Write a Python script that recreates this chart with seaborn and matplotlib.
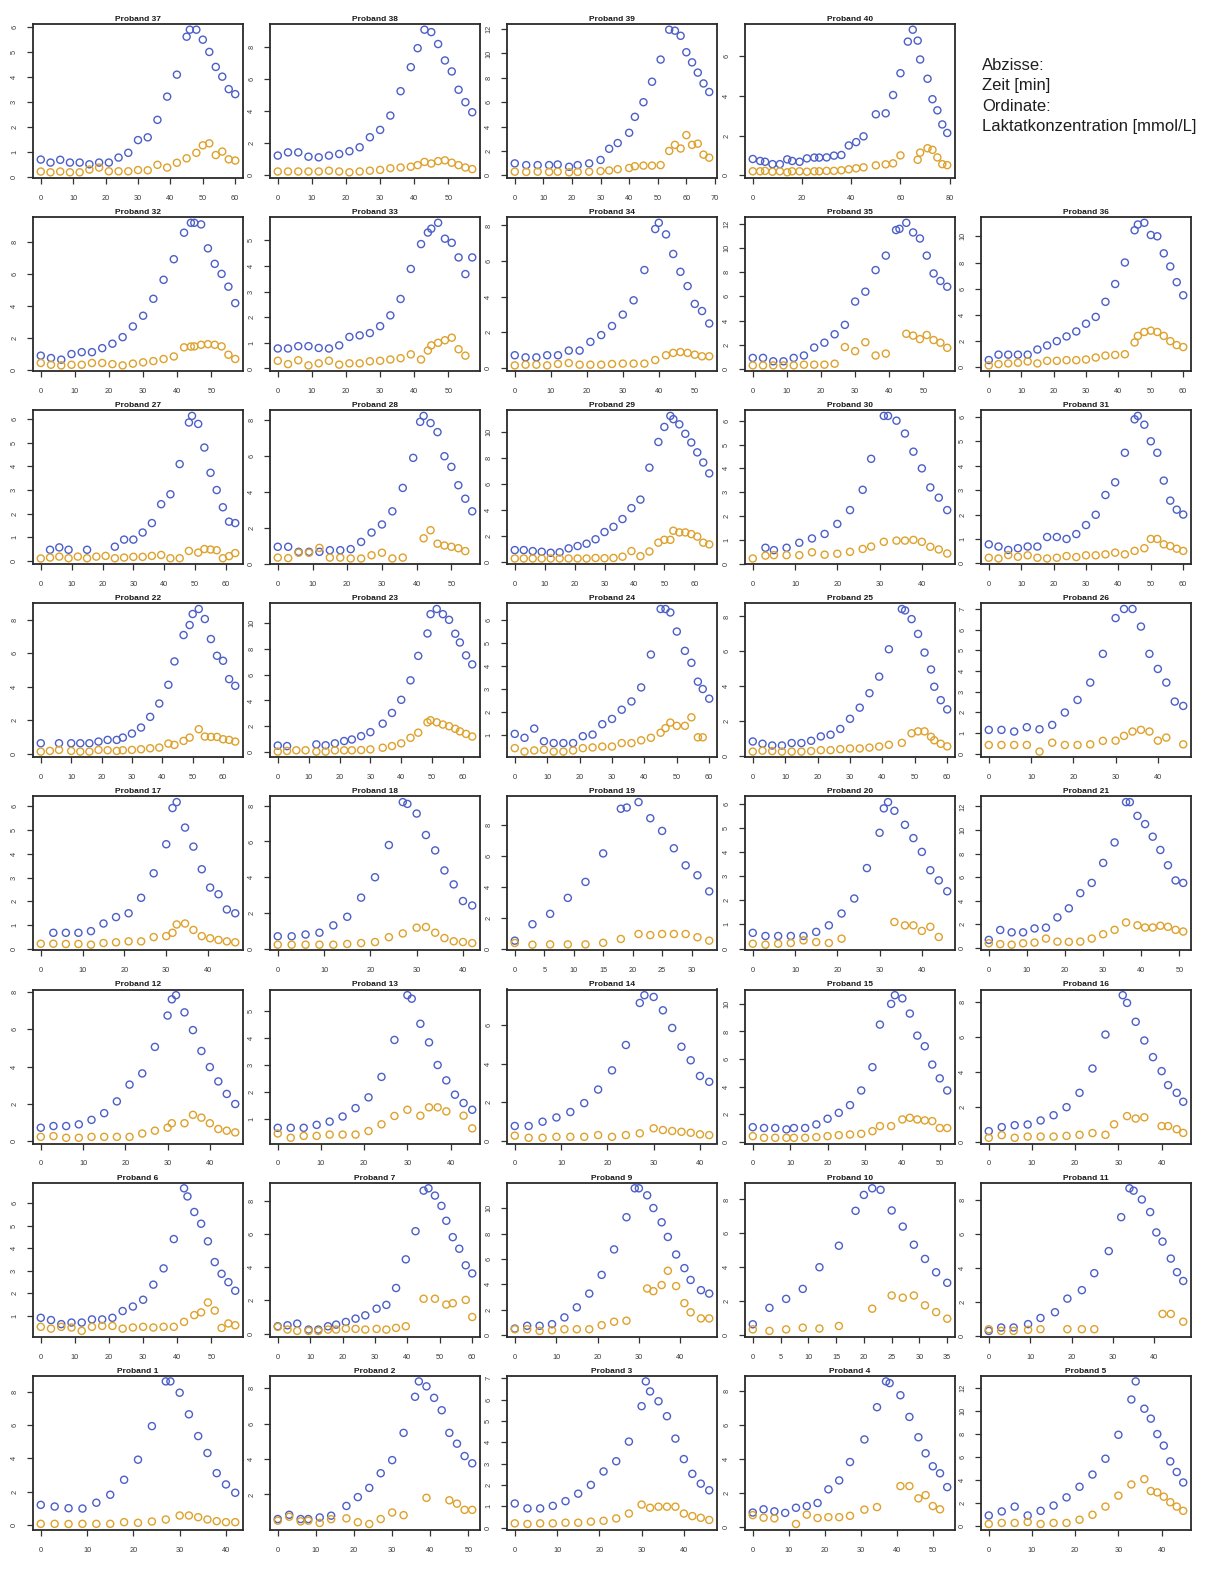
import numpy as np
import pandas as pd
import matplotlib
matplotlib.use("Agg")
import matplotlib.pyplot as plt
from matplotlib.ticker import FixedLocator, FormatStrFormatter
import seaborn as sns

nan = np.nan

# ---- lactate series per proband: time [min], blue series, orange series ----
t37 = [0, 3, 6, 9, 12, 15, 18, 21, 24, 27, 30, 33, 36, 39, 42, 45, 46, 48, 50, 52, 54, 56, 58, 60]
b37 = [0.70, 0.58, 0.69, 0.58, 0.58, 0.51, 0.58, 0.58, 0.78, 0.97, 1.48, 1.59, 2.29, 3.22, 4.10, 5.62, 5.90, 5.90, 5.50, 5.01, 4.41, 4.02, 3.52, 3.32]
o37 = [0.22, 0.19, 0.22, 0.19, 0.19, 0.30, 0.38, 0.23, 0.23, 0.23, 0.28, 0.27, 0.49, 0.38, 0.57, 0.75, nan, 0.97, 1.27, 1.35, 0.88, 1.02, 0.71, 0.66]

t38 = [0, 3, 6, 9, 12, 15, 18, 21, 24, 27, 30, 33, 36, 39, 41, 43, 45, 47, 49, 51, 53, 55, 57]
b38 = [1.2, 1.4, 1.4, 1.13, 1.09, 1.2, 1.3, 1.47, 1.72, 2.35, 2.81, 3.71, 5.24, 6.75, 7.94, 9.1, 8.95, 8.2, 7.17, 6.48, 5.33, 4.55, 3.92]
o38 = [0.2, 0.2, 0.2, 0.2, 0.2, 0.25, 0.2, 0.15, 0.2, 0.25, 0.3, 0.4, 0.45, 0.5, 0.6, 0.8, 0.7, 0.85, 0.9, 0.75, 0.6, 0.45, 0.35]

t39 = [0, 4, 8, 12, 15, 19, 22, 26, 30, 33, 36, 40, 42, 45, 48, 51, 54, 56, 58, 60, 62, 64, 66, 68]
b39 = [0.98, 0.84, 0.84, 0.84, 0.89, 0.70, 0.84, 0.98, 1.26, 2.18, 2.65, 3.49, 4.80, 6.0, 7.68, 9.5, 11.95, 11.87, 11.45, 10.1, 9.27, 8.43, 7.54, 6.84]
o39 = [0.3, 0.28, 0.3, 0.28, 0.3, 0.25, 0.28, 0.3, 0.35, 0.4, 0.5, 0.6, 0.75, 0.8, 0.8, 0.84, 2.0, 2.5, 2.2, 3.3, 2.5, 2.6, 1.7, 1.45]

t40 = [0, 3, 5, 8, 11, 14, 16, 19, 22, 25, 27, 30, 33, 36, 39, 42, 45, 50, 54, 57, 60, 63, 65, 67, 68, 71, 73, 75, 77, 79]
b40 = [0.82, 0.72, 0.68, 0.56, 0.56, 0.80, 0.72, 0.68, 0.85, 0.89, 0.89, 0.90, 0.99, 1.02, 1.5, 1.67, 1.96, 3.07, 3.12, 4.04, 5.14, 6.73, 7.33, 6.78, 5.83, 4.86, 3.83, 3.27, 2.56, 2.13]
o40 = [0.2, 0.2, 0.22, 0.18, 0.2, 0.15, 0.2, 0.2, 0.18, 0.2, 0.2, 0.22, 0.22, 0.25, 0.3, 0.35, 0.4, 0.5, 0.55, 0.6, 1.0, nan, nan, 0.78, 1.14, 1.36, 1.28, 0.9, 0.56, 0.51]

t32 = [0, 3, 6, 9, 12, 15, 18, 21, 24, 27, 30, 33, 36, 39, 42, 44, 45, 47, 49, 51, 53, 55, 57]
b32 = [0.88, 0.73, 0.63, 0.98, 1.1, 1.1, 1.35, 1.63, 2.04, 2.71, 3.38, 4.44, 5.63, 6.92, 8.58, 9.2, 9.2, 9.1, 7.6, 6.63, 6.0, 5.2, 4.17]
o32 = [0.42, 0.31, 0.27, 0.31, 0.31, 0.42, 0.42, 0.35, 0.27, 0.38, 0.46, 0.54, 0.67, 0.83, 1.4, 1.45, 1.46, 1.56, 1.6, 1.56, 1.46, 0.94, 0.67]

t33 = [0, 3, 6, 9, 12, 15, 18, 21, 24, 27, 30, 33, 36, 39, 42, 44, 45, 47, 49, 51, 53, 55, 57]
b33 = [0.78, 0.78, 0.87, 0.87, 0.8, 0.78, 0.9, 1.23, 1.29, 1.38, 1.65, 2.07, 2.71, 3.88, 4.85, 5.3, 5.45, 5.68, 5.06, 4.9, 4.33, 3.68, 4.33]
o33 = [0.3, 0.17, 0.32, 0.12, 0.2, 0.3, 0.15, 0.2, 0.2, 0.28, 0.3, 0.35, 0.4, 0.55, 0.35, 0.7, 0.9, 1.0, 1.1, 1.2, 0.75, 0.5, nan]

t34 = [0, 3, 6, 9, 12, 15, 18, 21, 24, 27, 30, 33, 36, 39, 40, 42, 44, 46, 48, 50, 52, 54]
b34 = [0.72, 0.6, 0.6, 0.72, 0.72, 0.98, 0.98, 1.47, 1.85, 2.36, 3.0, 3.8, 5.5, 7.8, 8.15, 7.5, 6.4, 5.4, 4.6, 3.6, 3.2, 2.5]
o34 = [0.15, 0.19, 0.19, 0.15, 0.23, 0.28, 0.19, 0.19, 0.19, 0.23, 0.25, 0.25, 0.25, 0.45, nan, 0.72, 0.85, 0.9, 0.85, 0.75, 0.66, 0.66]

t35 = [0, 3, 6, 9, 12, 15, 18, 21, 24, 27, 30, 33, 36, 39, 42, 43, 45, 47, 49, 51, 53, 55, 57]
b35 = [0.9, 0.9, 0.62, 0.62, 0.9, 1.1, 1.76, 2.16, 2.86, 3.64, 5.57, 6.39, 8.18, 9.38, 11.5, 11.6, 12.1, 11.3, 10.8, 9.38, 7.9, 7.28, 6.8]
o35 = [0.28, 0.28, 0.28, 0.28, 0.28, 0.34, 0.34, 0.34, 0.42, 1.8, 1.46, 2.2, 1.1, 1.26, nan, nan, 2.9, 2.75, 2.46, 2.8, 2.38, 2.16, 1.74]

t36 = [0, 3, 6, 9, 12, 15, 18, 21, 24, 27, 30, 33, 36, 39, 42, 45, 46, 48, 50, 52, 54, 56, 58, 60]
b36 = [0.56, 0.97, 0.97, 0.97, 0.97, 1.36, 1.67, 2.0, 2.36, 2.74, 3.33, 3.85, 5.0, 6.36, 8.0, 10.46, 10.9, 11.03, 10.1, 10.0, 8.7, 7.7, 6.5, 5.5]
o36 = [0.15, 0.25, 0.3, 0.35, 0.45, 0.3, 0.5, 0.5, 0.55, 0.55, 0.6, 0.75, 0.9, 0.95, 1.0, 1.9, 2.4, 2.7, 2.8, 2.7, 2.4, 2.0, 1.7, 1.55]

t27 = [0, 3, 6, 9, 12, 15, 18, 21, 24, 27, 30, 33, 36, 39, 42, 45, 48, 49, 51, 53, 55, 57, 59, 61, 63]
b27 = [nan, 0.47, 0.57, 0.47, nan, 0.47, nan, nan, 0.6, 0.9, 0.9, 1.2, 1.6, 2.4, 2.82, 4.1, 5.86, 6.14, 5.8, 4.8, 3.73, 3.0, 2.27, 1.66, 1.6]
o27 = [0.1, 0.14, 0.18, 0.11, 0.18, 0.11, 0.18, 0.21, 0.11, 0.14, 0.17, 0.17, 0.21, 0.25, 0.11, 0.11, 0.42, nan, 0.35, 0.5, 0.48, 0.45, 0.11, 0.2, 0.33]

t28 = [0, 3, 6, 9, 12, 15, 18, 21, 24, 27, 30, 33, 36, 39, 41, 42, 44, 46, 48, 50, 52, 54, 56]
b28 = [0.93, 0.93, 0.65, 0.65, 0.65, 0.74, 0.74, 0.8, 1.2, 1.72, 2.17, 2.9, 4.2, 5.87, 7.87, 8.2, 7.8, 7.3, 5.96, 5.37, 4.35, 3.6, 2.9]
o28 = [0.33, 0.3, 0.6, 0.6, 0.87, 0.33, 0.33, 0.28, 0.28, 0.46, 0.6, 0.28, 0.33, nan, nan, 1.4, 1.85, 1.1, 1.0, 0.93, 0.85, 0.69, nan]

t29 = [0, 3, 6, 9, 12, 15, 18, 21, 24, 27, 30, 33, 36, 39, 42, 45, 48, 50, 52, 53, 55, 57, 59, 61, 63, 65]
b29 = [0.91, 0.91, 0.83, 0.78, 0.7, 0.74, 1.04, 1.22, 1.4, 1.74, 2.3, 2.7, 3.3, 4.14, 4.8, 7.26, 9.24, 10.4, 11.25, 11.0, 10.6, 9.87, 9.2, 8.44, 7.66, 6.82]
o29 = [0.26, 0.26, 0.26, 0.26, 0.26, 0.26, 0.26, 0.26, 0.26, 0.3, 0.28, 0.3, 0.4, 0.83, 0.44, 0.8, 1.48, 1.7, 1.7, 2.4, 2.27, 2.27, 2.14, 1.95, 1.48, 1.35]

t30 = [0, 3, 5, 8, 11, 14, 17, 20, 23, 26, 28, 31, 32, 34, 36, 38, 40, 42, 44, 46]
b30 = [nan, 0.67, 0.57, 0.67, 0.88, 1.06, 1.25, 1.67, 2.25, 3.1, 4.4, 6.2, 6.2, 6.0, 5.46, 4.7, 4.0, 3.2, 2.77, 2.25]
o30 = [0.22, 0.34, 0.36, 0.36, 0.36, 0.48, 0.38, 0.42, 0.5, 0.62, 0.72, 0.92, nan, 0.97, 0.97, 1.0, 0.92, 0.71, 0.6, 0.43]

t31 = [0, 3, 6, 9, 12, 15, 18, 21, 24, 27, 30, 33, 36, 39, 42, 45, 46, 48, 50, 52, 54, 56, 58, 60]
b31 = [0.78, 0.69, 0.55, 0.62, 0.69, 0.69, 1.08, 1.08, 1.0, 1.2, 1.57, 1.99, 2.8, 3.32, 4.53, 5.9, 6.04, 5.68, 5.0, 4.53, 3.39, 2.57, 2.2, 2.0]
o31 = [0.23, 0.2, 0.34, 0.27, 0.33, 0.23, 0.2, 0.23, 0.3, 0.26, 0.33, 0.33, 0.37, 0.44, 0.37, 0.51, nan, 0.62, 1.0, 1.0, 0.78, 0.71, 0.6, 0.51]

t22 = [0, 3, 6, 10, 13, 16, 19, 22, 25, 27, 30, 33, 36, 39, 42, 44, 47, 49, 50, 52, 54, 56, 58, 60, 62, 64]
b22 = [0.62, nan, 0.62, 0.62, 0.62, 0.62, 0.72, 0.82, 0.82, 0.96, 1.2, 1.56, 2.2, 3.0, 4.12, 5.52, 7.1, 7.7, 8.36, 8.66, 8.06, 6.86, 5.86, 5.56, 4.46, 4.06]
o22 = [0.12, 0.16, 0.22, 0.16, 0.12, 0.12, 0.22, 0.2, 0.16, 0.2, 0.22, 0.26, 0.32, 0.36, 0.6, 0.52, 0.76, 0.96, nan, 1.46, 1.02, 1.0, 1.0, 0.86, 0.82, 0.72]

t23 = [0, 3, 6, 9, 12.5, 15.5, 18.5, 21.5, 24, 27, 30, 34, 37, 40, 43, 45.5, 48.5, 49.5, 51.5, 53.5, 55.5, 57.5, 59, 61, 63]
b23 = [0.5, 0.46, nan, nan, 0.59, 0.52, 0.67, 0.85, 0.97, 1.23, 1.54, 2.2, 3.03, 4.05, 5.56, 7.46, 9.2, 10.7, 11.1, 10.7, 10.26, 9.18, 8.5, 7.5, 6.8]
o23 = [0.03, 0.08, 0.13, 0.13, 0.03, 0.03, 0.13, 0.13, 0.13, 0.15, 0.2, 0.33, 0.46, 0.67, 1.1, 1.5, 2.3, 2.46, 2.3, 2.13, 2.0, 1.8, 1.6, 1.4, 1.2]

t24 = [0, 3, 6, 9, 12, 15, 18, 21, 24, 27, 30, 33, 36, 39, 42, 45, 46.5, 48, 50, 52.5, 54.5, 56.5, 58, 60]
b24 = [1.05, 0.88, 1.28, 0.73, 0.65, 0.65, 0.65, 0.95, 1.02, 1.47, 1.7, 2.1, 2.46, 3.07, 4.5, 6.48, 6.48, 6.33, 5.5, 4.66, 4.14, 3.32, 3.0, 2.58]
o24 = [0.43, 0.28, 0.33, 0.36, 0.28, 0.28, 0.33, 0.43, 0.46, 0.5, 0.5, 0.65, 0.65, 0.77, 0.88, 1.1, 1.3, 1.54, 1.4, 1.4, 1.77, 0.9, 0.9, nan]

t25 = [0, 3, 6, 9, 12, 15, 18, 21, 24, 27, 30, 33, 36, 39, 42, 46, 47, 49, 51, 53, 55, 56, 58, 60]
b25 = [0.83, 0.7, 0.6, 0.6, 0.74, 0.74, 0.87, 1.12, 1.22, 1.55, 2.13, 2.77, 3.6, 4.55, 6.12, 8.43, 8.35, 7.85, 7.0, 5.93, 4.96, 3.97, 3.2, 2.67]
o25 = [0.25, 0.3, 0.28, 0.25, 0.25, 0.25, 0.28, 0.33, 0.33, 0.39, 0.43, 0.43, 0.48, 0.54, 0.64, 0.75, nan, 1.3, 1.41, 1.41, 1.1, 0.9, 0.7, 0.55]

t26 = [0, 3, 6, 9, 12, 15, 18, 21, 24, 27, 30, 32, 34, 36, 38, 40, 42, 44, 46]
b26 = [1.15, 1.15, 1.07, 1.28, 1.18, 1.39, 1.99, 2.6, 3.44, 4.83, 6.56, 7.0, 7.0, 6.15, 4.83, 4.1, 3.44, 2.52, 2.31]
o26 = [0.42, 0.42, 0.42, 0.42, 0.1, 0.53, 0.42, 0.42, 0.45, 0.62, 0.63, 0.86, 1.07, 1.15, 1.07, 0.63, 0.78, nan, 0.45]

t17 = [0, 3, 6, 9, 12, 15, 18, 21, 24, 27, 30, 31.5, 32.5, 34.5, 36.5, 38.5, 40.5, 42.5, 44.5, 46.5]
b17 = [nan, 0.68, 0.68, 0.68, 0.75, 1.07, 1.34, 1.5, 2.15, 3.18, 4.4, 5.92, 6.17, 5.1, 4.3, 3.35, 2.58, 2.3, 1.66, 1.5]
o17 = [0.22, 0.22, 0.21, 0.21, 0.18, 0.25, 0.28, 0.32, 0.32, 0.5, 0.54, 0.68, 1.03, 1.07, 0.8, 0.54, 0.45, 0.38, 0.32, 0.28]

t18 = [0, 3, 6, 9, 12, 15, 18, 21, 24, 27, 28, 30, 32, 34, 36, 38, 40, 42]
b18 = [0.7, 0.7, 0.8, 0.9, 1.31, 1.79, 2.86, 4.0, 5.8, 8.2, 8.1, 7.56, 6.36, 5.5, 4.38, 3.6, 2.67, 2.42]
o18 = [0.23, 0.23, 0.23, 0.23, 0.23, 0.27, 0.32, 0.38, 0.65, 0.86, nan, 1.18, 1.22, 0.9, 0.6, 0.42, 0.38, 0.32]

t19 = [0, 3, 6, 9, 12, 15, 18, 19, 21, 23, 25, 27, 29, 31, 33]
b19 = [0.54, 1.6, 2.27, 3.3, 4.33, 6.17, 9.05, 9.13, 9.48, 8.44, 7.62, 6.5, 5.4, 4.76, 3.72]
o19 = [0.39, 0.28, 0.3, 0.3, 0.3, 0.4, 0.65, nan, 0.97, 0.9, 0.97, 0.97, 0.97, 0.76, 0.54]

t20 = [0, 3, 6, 9, 12, 15, 18, 21, 24, 27, 30, 31, 32, 33.5, 36, 38, 40, 42, 44, 46]
b20 = [0.65, 0.52, 0.52, 0.52, 0.52, 0.69, 0.96, 1.45, 2.07, 3.33, 4.79, 5.8, 6.06, 5.7, 5.12, 4.57, 4.0, 3.24, 2.82, 2.37]
o20 = [0.2, 0.16, 0.2, 0.23, 0.34, 0.27, 0.23, 0.41, nan, nan, nan, nan, nan, 1.1, 0.96, 0.96, 0.73, 0.9, 0.48, nan]

t21 = [0, 3, 6, 9, 12, 15, 18, 21, 24, 27, 30, 33, 36, 37, 39, 41, 43, 45, 47, 49, 51]
b21 = [0.66, 1.5, 1.3, 1.3, 1.63, 1.7, 2.57, 3.34, 4.63, 5.5, 7.2, 8.94, 12.37, 12.37, 11.2, 10.5, 9.43, 8.3, 7.0, 5.71, 5.5]
o21 = [0.37, 0.3, 0.25, 0.37, 0.43, 0.77, 0.51, 0.49, 0.51, 0.77, 1.14, 1.51, 2.14, nan, 1.9, 1.71, 1.71, 1.86, 1.77, 1.51, 1.37]

t12 = [0, 3, 6, 9, 12, 15, 18, 21, 24, 27, 30, 31, 32, 34, 36, 38, 40, 42, 44, 46]
b12 = [0.72, 0.81, 0.81, 0.9, 1.14, 1.5, 2.13, 3.03, 3.63, 5.05, 6.73, 7.6, 7.82, 6.9, 5.95, 4.83, 3.97, 3.2, 2.53, 1.99]
o12 = [0.23, 0.27, 0.18, 0.18, 0.23, 0.23, 0.23, 0.23, 0.41, 0.56, 0.72, 0.96, nan, 0.96, 1.41, 1.26, 0.96, 0.65, 0.56, 0.47]

t13 = [0, 3, 6, 9, 12, 15, 18, 21, 24, 27, 30, 31, 33, 35, 37, 39, 41, 43, 45]
b13 = [0.67, 0.67, 0.67, 0.78, 0.9, 1.09, 1.4, 1.8, 2.56, 3.93, 5.59, 5.46, 4.53, 3.84, 3.0, 2.43, 1.9, 1.59, 1.34]
o13 = [0.46, 0.3, 0.37, 0.37, 0.42, 0.42, 0.42, 0.55, 0.8, 1.11, 1.34, nan, 1.12, 1.43, 1.43, 1.28, nan, 1.12, 0.65]

t14 = [0, 3, 6, 9, 12, 15, 18, 21, 24, 27, 28, 30, 32, 34, 36, 38, 40, 42]
b14 = [0.78, 0.78, 1.0, 1.22, 1.5, 1.96, 2.66, 3.65, 4.96, 7.13, 7.53, 7.44, 6.75, 5.84, 4.87, 4.17, 3.36, 3.06]
o14 = [0.28, 0.17, 0.17, 0.22, 0.22, 0.22, 0.31, 0.22, 0.31, 0.4, nan, 0.66, 0.57, 0.52, 0.48, 0.43, 0.35, 0.31]

t15 = [0, 3, 6, 9, 11, 14, 17, 20, 23, 26, 29, 32, 34, 37, 38, 40, 42, 44, 46, 48, 50, 52]
b15 = [1.06, 1.0, 1.0, 0.9, 1.0, 1.0, 1.26, 1.67, 2.1, 2.66, 3.72, 5.41, 8.5, 10.0, 10.63, 10.4, 9.3, 7.7, 6.93, 5.6, 4.6, 3.72]
o15 = [0.41, 0.29, 0.29, 0.29, 0.29, 0.29, 0.34, 0.41, 0.48, 0.53, 0.58, 0.77, 1.14, 1.14, nan, 1.62, 1.74, 1.62, 1.55, 1.5, 1.0, 1.0]

t16 = [0, 3, 6, 9, 12, 15, 18, 21, 24, 27, 29, 31, 32, 34, 36, 38, 40, 41.5, 43.5, 45]
b16 = [0.61, 0.84, 0.95, 0.99, 1.22, 1.52, 1.98, 2.8, 4.19, 6.13, nan, 8.38, 7.94, 6.86, 5.79, 4.84, 4.04, 3.24, 2.8, 2.29]
o16 = [0.23, 0.38, 0.23, 0.3, 0.3, 0.3, 0.34, 0.4, 0.5, 0.4, 1.0, nan, 1.47, 1.33, 1.4, nan, 0.9, 0.9, 0.72, 0.51]

t6 = [0, 3, 6, 9, 12, 15, 18, 21, 24, 27, 30, 33, 36, 39, 42, 43, 45, 47, 49, 51, 53, 55, 57]
b6 = [0.91, 0.81, 0.63, 0.7, 0.7, 0.84, 0.84, 0.91, 1.21, 1.41, 1.71, 2.38, 3.1, 4.4, 6.65, 6.29, 5.6, 5.08, 4.3, 3.38, 2.86, 2.49, 2.11]
o6 = [0.51, 0.43, 0.51, 0.48, 0.33, 0.51, 0.55, 0.55, 0.43, 0.48, 0.51, 0.48, 0.51, 0.51, 0.73, nan, 1.03, 1.15, 1.59, 1.23, 0.46, 0.66, 0.58]

t7 = [0, 3, 6, 9.5, 12.5, 15.5, 18, 21, 24, 27, 30.5, 33.5, 36.5, 39.5, 42.5, 45, 46.5, 48.5, 50.5, 52, 54, 56, 58, 60]
b7 = [0.44, 0.5, 0.6, 0.24, 0.24, 0.44, 0.54, 0.7, 0.9, 1.1, 1.5, 1.73, 2.75, 4.48, 6.18, 8.63, 8.77, 8.33, 7.71, 6.81, 5.82, 5.12, 4.12, 3.63]
o7 = [0.4, 0.24, 0.16, 0.16, 0.16, 0.24, 0.24, 0.3, 0.28, 0.24, 0.28, 0.24, 0.34, 0.44, nan, 2.1, nan, 2.1, nan, 1.75, 1.83, nan, 2.03, 1.0]

t9 = [0, 3, 6, 9, 12, 15, 18, 21, 24, 27, 29, 30, 32, 33.5, 35.5, 37, 39, 41, 42.5, 45, 47]
b9 = [0.53, 0.75, 0.75, 0.88, 1.41, 2.2, 3.28, 4.75, 6.75, 9.28, 11.55, 11.55, 11.0, 10.0, 8.88, 7.73, 6.35, 5.28, 4.35, 3.55, 3.28]
o9 = [0.48, 0.48, 0.35, 0.4, 0.48, 0.48, 0.48, 0.8, 1.07, 1.15, nan, nan, 3.68, 3.47, 3.95, 5.07, 3.87, 2.53, 1.81, 1.33, 1.33]

t10 = [0, 3, 6, 9, 12, 15.5, 18.5, 20, 21.5, 23, 25, 27, 29, 31, 33, 35]
b10 = [0.63, 1.6, 2.13, 2.72, 4.0, 5.27, 7.33, 8.27, 8.66, 8.57, 7.35, 6.4, 5.33, 4.49, 3.7, 3.08]
o10 = [0.33, 0.24, 0.33, 0.43, 0.38, 0.53, nan, nan, 1.55, nan, 2.33, 2.2, 2.33, 1.75, 1.35, 0.96]

t11 = [0, 3, 6, 9.5, 12.5, 16, 19, 22.5, 25.5, 29, 32, 34, 35, 37, 39, 40.5, 42, 44, 45.5, 47]
b11 = [0.3, 0.5, 0.5, 0.7, 1.06, 1.4, 2.2, 2.7, 3.7, 5.0, 7.0, 8.7, 8.56, 8.04, 7.3, 6.1, 5.56, 4.56, 3.76, 3.24]
o11 = [0.4, 0.3, 0.3, 0.36, 0.4, nan, 0.4, 0.4, 0.4, nan, nan, nan, nan, nan, nan, nan, 1.3, 1.3, nan, 0.84]

t1 = [0, 3, 6, 9, 12, 15, 18, 21, 24, 27, 28, 30, 32, 34, 36, 38, 40, 42]
b1 = [1.2, 1.1, 1.0, 0.98, 1.33, 1.81, 2.71, 3.92, 5.94, 8.63, 8.63, 7.95, 6.65, 5.34, 4.32, 3.11, 2.43, 1.93]
o1 = [0.06, 0.06, 0.05, 0.06, 0.06, 0.06, 0.16, 0.12, 0.2, 0.32, nan, 0.56, 0.56, 0.46, 0.32, 0.22, 0.16, 0.16]

t2 = [0, 3, 6, 8, 11, 14, 18, 21, 24, 27, 30, 33, 36, 37, 39, 41, 43, 45, 47, 49, 51]
b2 = [0.61, 0.85, 0.61, 0.61, 0.7, 0.8, 1.35, 1.85, 2.37, 3.2, 3.94, 5.48, 7.52, 8.39, 8.11, 7.46, 6.76, 5.48, 4.87, 4.17, 3.76]
o2 = [0.52, 0.74, 0.48, 0.52, 0.39, 0.6, 0.65, 0.43, 0.33, 0.61, 0.98, 0.83, nan, nan, 1.81, nan, nan, 1.67, 1.48, 1.13, 1.13]

t3 = [0, 3, 6, 9, 12, 15, 18, 21, 24, 27, 30, 31, 32, 34, 36, 38, 40, 42, 44, 46]
b3 = [1.13, 0.9, 0.9, 1.02, 1.24, 1.59, 2.0, 2.63, 3.11, 4.03, 5.69, 6.85, 6.38, 5.92, 5.22, 4.17, 3.21, 2.52, 2.06, 1.75]
o3 = [0.2, 0.17, 0.2, 0.2, 0.23, 0.23, 0.28, 0.32, 0.43, 0.66, 1.08, nan, 0.93, 0.98, 0.98, 0.98, 0.66, 0.54, 0.46, 0.36]

t4 = [0, 3, 6, 9, 12, 15, 18, 21, 24, 27, 31, 34.5, 37, 38, 41, 43.5, 46, 48, 50, 52, 54]
b4 = [0.87, 1.06, 0.94, 0.85, 1.15, 1.25, 1.43, 2.23, 2.75, 3.83, 5.15, 7.04, 8.55, 8.45, 7.74, 6.47, 5.28, 4.34, 3.58, 3.17, 2.36]
o4 = [0.72, 0.57, 0.53, nan, 0.2, 0.75, 0.55, 0.6, 0.6, 0.68, 1.04, 1.19, nan, nan, 2.42, 2.42, 1.7, 1.89, 1.25, 1.06, nan]

t5 = [0, 3, 6, 9, 12, 15, 18, 21, 24, 27, 30, 33, 34, 36, 37.5, 39, 40.5, 42, 43.5, 45]
b5 = [0.94, 1.29, 1.71, 0.94, 1.34, 1.8, 2.51, 3.43, 4.49, 5.86, 7.94, 11.0, 12.57, 10.2, 9.34, 8.0, 7.0, 5.63, 4.71, 3.8]
o5 = [0.2, 0.29, 0.29, 0.37, 0.2, 0.29, 0.29, 0.57, 1.0, 1.71, 2.66, 3.63, nan, 4.09, 3.06, 2.94, 2.57, 2.09, 1.71, 1.34]

# panel arrangement (None = legend text cell)
LAYOUT = [
    [37, 38, 39, 40, None],
    [32, 33, 34, 35, 36],
    [27, 28, 29, 30, 31],
    [22, 23, 24, 25, 26],
    [17, 18, 19, 20, 21],
    [12, 13, 14, 15, 16],
    [6, 7, 9, 10, 11],
    [1, 2, 3, 4, 5],
]
NOTE_LINES = ["Abzisse:", "Zeit [min]", "Ordinate:", "Laktatkonzentration [mmol/L]"]

# ---- style ----
W, H = 1206, 1571
COL_LEFT = [33, 270, 507, 745, 981]
ROW_TOP0, ROW_STEP = 24, 193.1
BOX_W, BOX_H = 210, 154
BLUE = "#4c5fc7"
ORANGE = "#dea12c"

sns.set_theme(style="white")
plt.rcParams["font.family"] = ["Liberation Sans", "DejaVu Sans"]


def r_pretty(lo, hi, n=5):
    """Tick positions following R's pretty()."""
    h, h5 = 1.5, 0.5 + 1.5 * 1.5
    cell = (hi - lo) / n
    base = 10 ** np.floor(np.log10(cell))
    unit = base
    if 2 * base - cell < h * (cell - unit):
        unit = 2 * base
        if 5 * base - cell < h5 * (cell - unit):
            unit = 5 * base
            if 10 * base - cell < h * (cell - unit):
                unit = 10 * base
    start = np.floor(lo / unit + 1e-7)
    end = np.ceil(hi / unit - 1e-7)
    return np.arange(start, end + 1) * unit


def padded(lo, hi, frac=0.04):
    d = hi - lo
    return lo - frac * d, hi + frac * d


fig = plt.figure(figsize=(W / 100, H / 100), dpi=100)
fig.patch.set_facecolor("white")

for r, row in enumerate(LAYOUT):
    for c, num in enumerate(row):
        if num is None:
            continue
        t = np.asarray(globals()[f"t{num}"], dtype=float)
        b = np.asarray(globals()[f"b{num}"], dtype=float)
        o = np.asarray(globals()[f"o{num}"], dtype=float)
        df = pd.DataFrame({"Zeit": t, "blau": b, "orange": o})

        top = ROW_TOP0 + r * ROW_STEP
        ax = fig.add_axes([COL_LEFT[c] / W, 1 - (top + BOX_H) / H, BOX_W / W, BOX_H / H])

        for col, colour in (("blau", BLUE), ("orange", ORANGE)):
            sub = df[["Zeit", col]].dropna()
            sns.scatterplot(data=sub, x="Zeit", y=col, ax=ax, s=26, marker="o",
                            color=colour, facecolor="none", edgecolor=colour,
                            linewidth=1.0, legend=False, zorder=3)

        xlo, xhi = np.nanmin(t), np.nanmax(t)
        yvals = np.concatenate([b, o])
        ylo, yhi = np.nanmin(yvals), np.nanmax(yvals)
        xl, yl = padded(xlo, xhi), padded(ylo, yhi)
        ax.set_xlim(xl)
        ax.set_ylim(yl)
        xt = [v for v in r_pretty(xlo, xhi) if xl[0] - 1e-9 <= v <= xl[1] + 1e-9]
        yt = [v for v in r_pretty(ylo, yhi) if yl[0] - 1e-9 <= v <= yl[1] + 1e-9]
        ax.xaxis.set_major_locator(FixedLocator(xt))
        ax.yaxis.set_major_locator(FixedLocator(yt))
        ax.xaxis.set_major_formatter(FormatStrFormatter("%g"))
        ax.yaxis.set_major_formatter(FormatStrFormatter("%g"))
        ax.set_xlabel("")
        ax.set_ylabel("")
        ax.grid(False)

        for sp in ax.spines.values():
            sp.set_visible(True)
            sp.set_color("#2a2a2a")
            sp.set_linewidth(1.3)
        ax.tick_params(axis="both", which="major", direction="out", length=4.2,
                       width=0.9, color="#333333", labelsize=5.3, labelcolor="#3a3a3a",
                       bottom=True, left=True)
        ax.tick_params(axis="x", pad=8)
        ax.tick_params(axis="y", pad=6.5, labelrotation=90)
        for lab in ax.get_yticklabels():
            lab.set_va("center")
        ax.set_title(f"Proband {num}", fontsize=6, fontweight="bold", color="#1a1a1a", pad=2.2)

# axis description in the free cell
for i, line in enumerate(NOTE_LINES):
    fig.text(982 / W, 1 - (65 + i * 20.6) / H, line, ha="left", va="center",
             fontsize=12, color="#1e1e1e")

fig.savefig("out.png", dpi=100, facecolor="white")
